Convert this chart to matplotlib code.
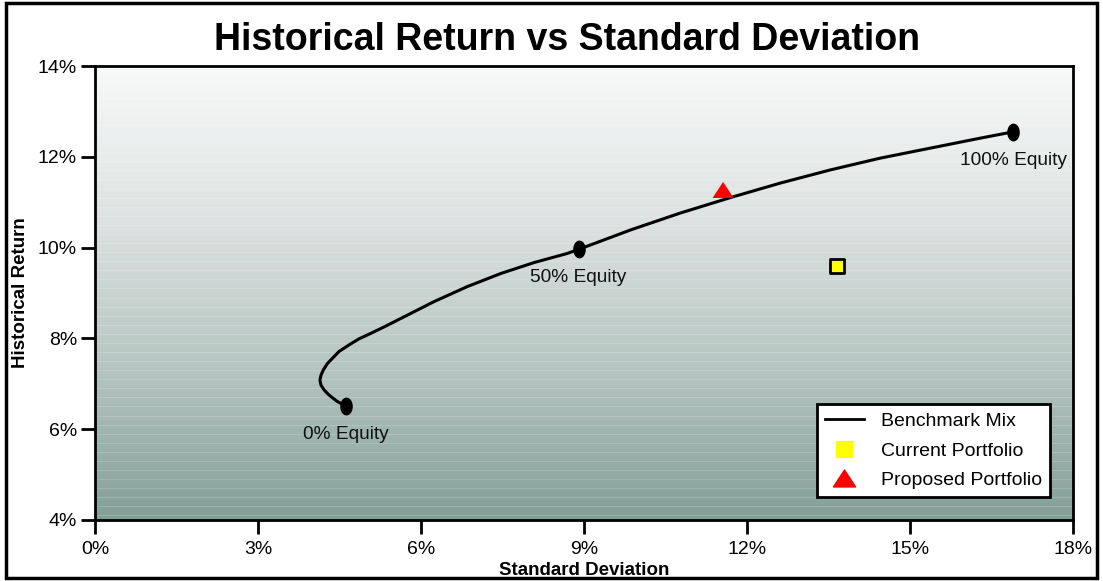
import numpy as np
import matplotlib
matplotlib.use("Agg")
import matplotlib.pyplot as plt
from matplotlib.colors import LinearSegmentedColormap
from matplotlib.path import Path
from matplotlib.lines import Line2D
from matplotlib.patches import Rectangle

plt.rcParams['font.family'] = ['Liberation Sans', 'DejaVu Sans']

# benchmark mix curve (std dev %, return %)
curve_sd = [4.62, 4.46, 4.31, 4.22, 4.16, 4.14, 4.16, 4.20, 4.28, 4.37, 4.49,
            4.68, 4.86, 5.11, 5.35, 5.63, 6.24, 6.85, 7.47, 8.08, 8.69, 8.90,
            9.86, 10.77, 11.69, 12.61, 13.53, 14.45, 15.37, 16.29, 16.90]
curve_ret = [6.51, 6.61, 6.75, 6.86, 6.97, 7.08, 7.19, 7.30, 7.45, 7.56, 7.71,
             7.86, 7.99, 8.13, 8.27, 8.44, 8.81, 9.14, 9.43, 9.67, 9.87, 9.96,
             10.39, 10.76, 11.10, 11.42, 11.71, 11.97, 12.19, 12.41, 12.55]

# labelled equity mixes
mix_labels = ['0% Equity', '50% Equity', '100% Equity']
mix_sd = [4.62, 8.90, 16.90]
mix_ret = [6.51, 9.96, 12.55]

current_sd, current_ret = 13.66, 9.59
proposed_sd, proposed_ret = 11.56, 11.27

xticks = [0, 3, 6, 9, 12, 15, 18]
yticks = [4, 6, 8, 10, 12, 14]

fig = plt.figure(figsize=(11.03, 5.81), dpi=100)
ax = fig.add_axes([0.0861, 0.105, 0.8867, 0.7814])

# gradient background, light at top
cmap = LinearSegmentedColormap.from_list('bg', ['#f8f9f9', '#dde3e2', '#b6c5c1', '#839f98'])
grad = np.linspace(0, 1, 256).reshape(-1, 1)
ax.imshow(grad, aspect='auto', cmap=cmap, extent=[0, 18, 4, 14], origin='upper', zorder=0)
for yy in np.arange(4.1, 14, 0.2):
    ax.axhline(yy, color='white', lw=0.6, alpha=0.2, zorder=0.5)

ax.plot(curve_sd, curve_ret, color='black', lw=2.2, zorder=2,
        solid_capstyle='round', solid_joinstyle='round')

t = np.linspace(0, 2 * np.pi, 40)
ell = Path(np.column_stack([0.68 * np.cos(t), np.sin(t)]), closed=True)
ax.scatter(mix_sd, mix_ret, marker=ell, s=140, color='black', zorder=3)
for lab, xs, ys in zip(mix_labels, mix_sd, mix_ret):
    ax.annotate(lab, (xs, ys), xytext=(0, -20.5), textcoords='offset points',
                ha='center', va='center', fontsize=13.8, color='#111111')

tri = Path([(0, 0.76), (-1, -0.76), (1, -0.76), (0, 0.76)], closed=True)
ax.scatter([current_sd], [current_ret], marker='s', s=90, color='#ffff00',
           edgecolor='black', linewidth=2, zorder=4)
ax.scatter([proposed_sd], [proposed_ret], marker=tri, s=230, color='#ff0000',
           edgecolor='none', zorder=4)

ax.set_xlim(0, 18)
ax.set_ylim(4, 14)
ax.set_xticks(xticks)
ax.set_xticklabels([f'{v}%' for v in xticks])
ax.set_yticks(yticks)
ax.set_yticklabels([f'{v}%' for v in yticks])
ax.tick_params(axis='both', length=10, width=2, labelsize=14, direction='out', pad=3)
ax.tick_params(axis='x', pad=5)
for sp in ax.spines.values():
    sp.set_linewidth(2)

ax.set_xlabel('Standard Deviation', fontsize=13.5, fontweight='bold', labelpad=3)
ax.set_ylabel('Historical Return', fontsize=13.5, fontweight='bold', labelpad=6)

handles = [Line2D([], [], color='black', lw=2),
           Line2D([], [], marker='s', ls='none', color='#ffff00', markersize=11),
           Line2D([], [], marker=tri, ls='none', color='#ff0000', markersize=16)]
leg = ax.legend(handles, ['Benchmark Mix', 'Current Portfolio', 'Proposed Portfolio'],
                loc='lower right', bbox_to_anchor=(0.9765, 0.0507), fontsize=14,
                fancybox=False, framealpha=1, edgecolor='black', borderpad=0.4,
                labelspacing=0.62, handlelength=2.0, handletextpad=0.9,
                borderaxespad=0)
leg.get_frame().set_linewidth(2)

fig.text(0.514, 0.932, 'Historical Return vs Standard Deviation', fontsize=27,
         fontweight='bold', ha='center', va='center')

fig.patches.append(Rectangle((0.005, 0.005), 0.99, 0.99, transform=fig.transFigure,
                             fill=False, edgecolor='black', lw=2.5))

fig.savefig('out.png', dpi=100)
